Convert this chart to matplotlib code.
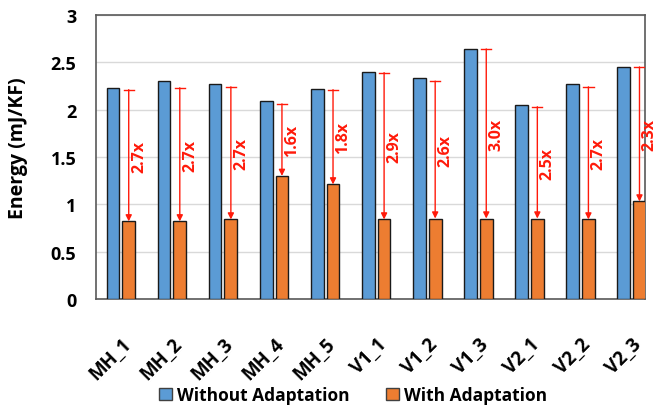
import matplotlib
matplotlib.use("Agg")
import matplotlib.pyplot as plt
import matplotlib.transforms as mtransforms
import numpy as np

categories = ["MH_1", "MH_2", "MH_3", "MH_4", "MH_5", "V1_1", "V1_2", "V1_3", "V2_1", "V2_2", "V2_3"]
without_adapt = [2.23, 2.30, 2.27, 2.09, 2.22, 2.40, 2.33, 2.64, 2.05, 2.27, 2.45]
with_adapt = [0.82, 0.82, 0.84, 1.30, 1.21, 0.84, 0.85, 0.85, 0.85, 0.84, 1.03]
arrow_top = [2.21, 2.23, 2.24, 2.06, 2.21, 2.39, 2.30, 2.64, 2.03, 2.24, 2.45]
ratio_labels = ["2.7x", "2.7x", "2.7x", "1.6x", "1.8x", "2.9x", "2.6x", "3.0x", "2.5x", "2.7x", "2.3x"]
yticks = [0, 0.5, 1, 1.5, 2, 2.5, 3]
ytick_labels = ["0", "0.5", "1", "1.5", "2", "2.5", "3"]

plt.rcParams['font.family'] = ['Open Sans', 'DejaVu Sans']

fig = plt.figure(figsize=(6.56, 4.06), dpi=100)
ax = fig.add_axes([0.146, 0.261, 0.837, 0.700])

x = np.arange(len(categories))
w = 0.25
off = 0.155
ax.bar(x - off, without_adapt, width=w, color="#5B9BD5", edgecolor="#1a1a1a", linewidth=1.0,
       label="Without Adaptation", zorder=3)
ax.bar(x + off, with_adapt, width=w, color="#ED7D31", edgecolor="#1a1a1a", linewidth=1.0,
       label="With Adaptation", zorder=3)

red = "#FF1A0A"
for i in range(len(categories)):
    xa = x[i] + off
    ax.annotate("", xy=(xa, with_adapt[i]), xytext=(xa, arrow_top[i]),
                arrowprops=dict(arrowstyle="-|>", color=red, lw=1.0, mutation_scale=9,
                                shrinkA=0, shrinkB=0), zorder=4)
    ax.plot([xa - 0.1, xa + 0.1], [arrow_top[i], arrow_top[i]], color=red, lw=1.0, zorder=4)
    ax.text(xa + 0.2, (arrow_top[i] + with_adapt[i]) / 2, ratio_labels[i], rotation=90,
            ha="center", va="center", color=red, fontsize=11.5, fontweight="bold", zorder=5)

ax.set_xlim(-0.49, 10.26)
ax.set_ylim(0, 3)
ax.set_yticks(yticks)
ax.set_yticklabels(ytick_labels, fontsize=13, fontweight="bold")
ax.set_xticks(x)
ax.set_xticklabels(categories, rotation=45, ha="right", rotation_mode="anchor",
                   fontsize=13.5, fontweight="bold")
shift = mtransforms.ScaledTranslation(-4 / 72, 0, fig.dpi_scale_trans)
for lbl in ax.get_xticklabels():
    lbl.set_transform(lbl.get_transform() + shift)
ax.tick_params(axis="both", length=0)
ax.tick_params(axis="x", pad=25)
ax.tick_params(axis="y", pad=14)
ax.grid(axis="y", color="#D9D9D9", lw=1.0, zorder=0)
ax.set_axisbelow(True)
for s in ax.spines.values():
    s.set_color("#595959")
    s.set_linewidth(1.2)

ax.set_ylabel("Energy (mJ/KF)", fontsize=14, fontweight="bold")
ax.yaxis.set_label_coords((28 - 96) / (0.837 * 656), 0.535)

leg = fig.legend(loc="center", bbox_to_anchor=(0.538, 1 - 396 / 406), ncol=2, frameon=False,
                 prop=dict(size=12.5, weight="bold"), handlelength=0.75, handleheight=0.75,
                 handletextpad=0.3, columnspacing=2.1)
for h in leg.legend_handles:
    h.set_edgecolor("#404040")

fig.savefig("out.png", dpi=100)
